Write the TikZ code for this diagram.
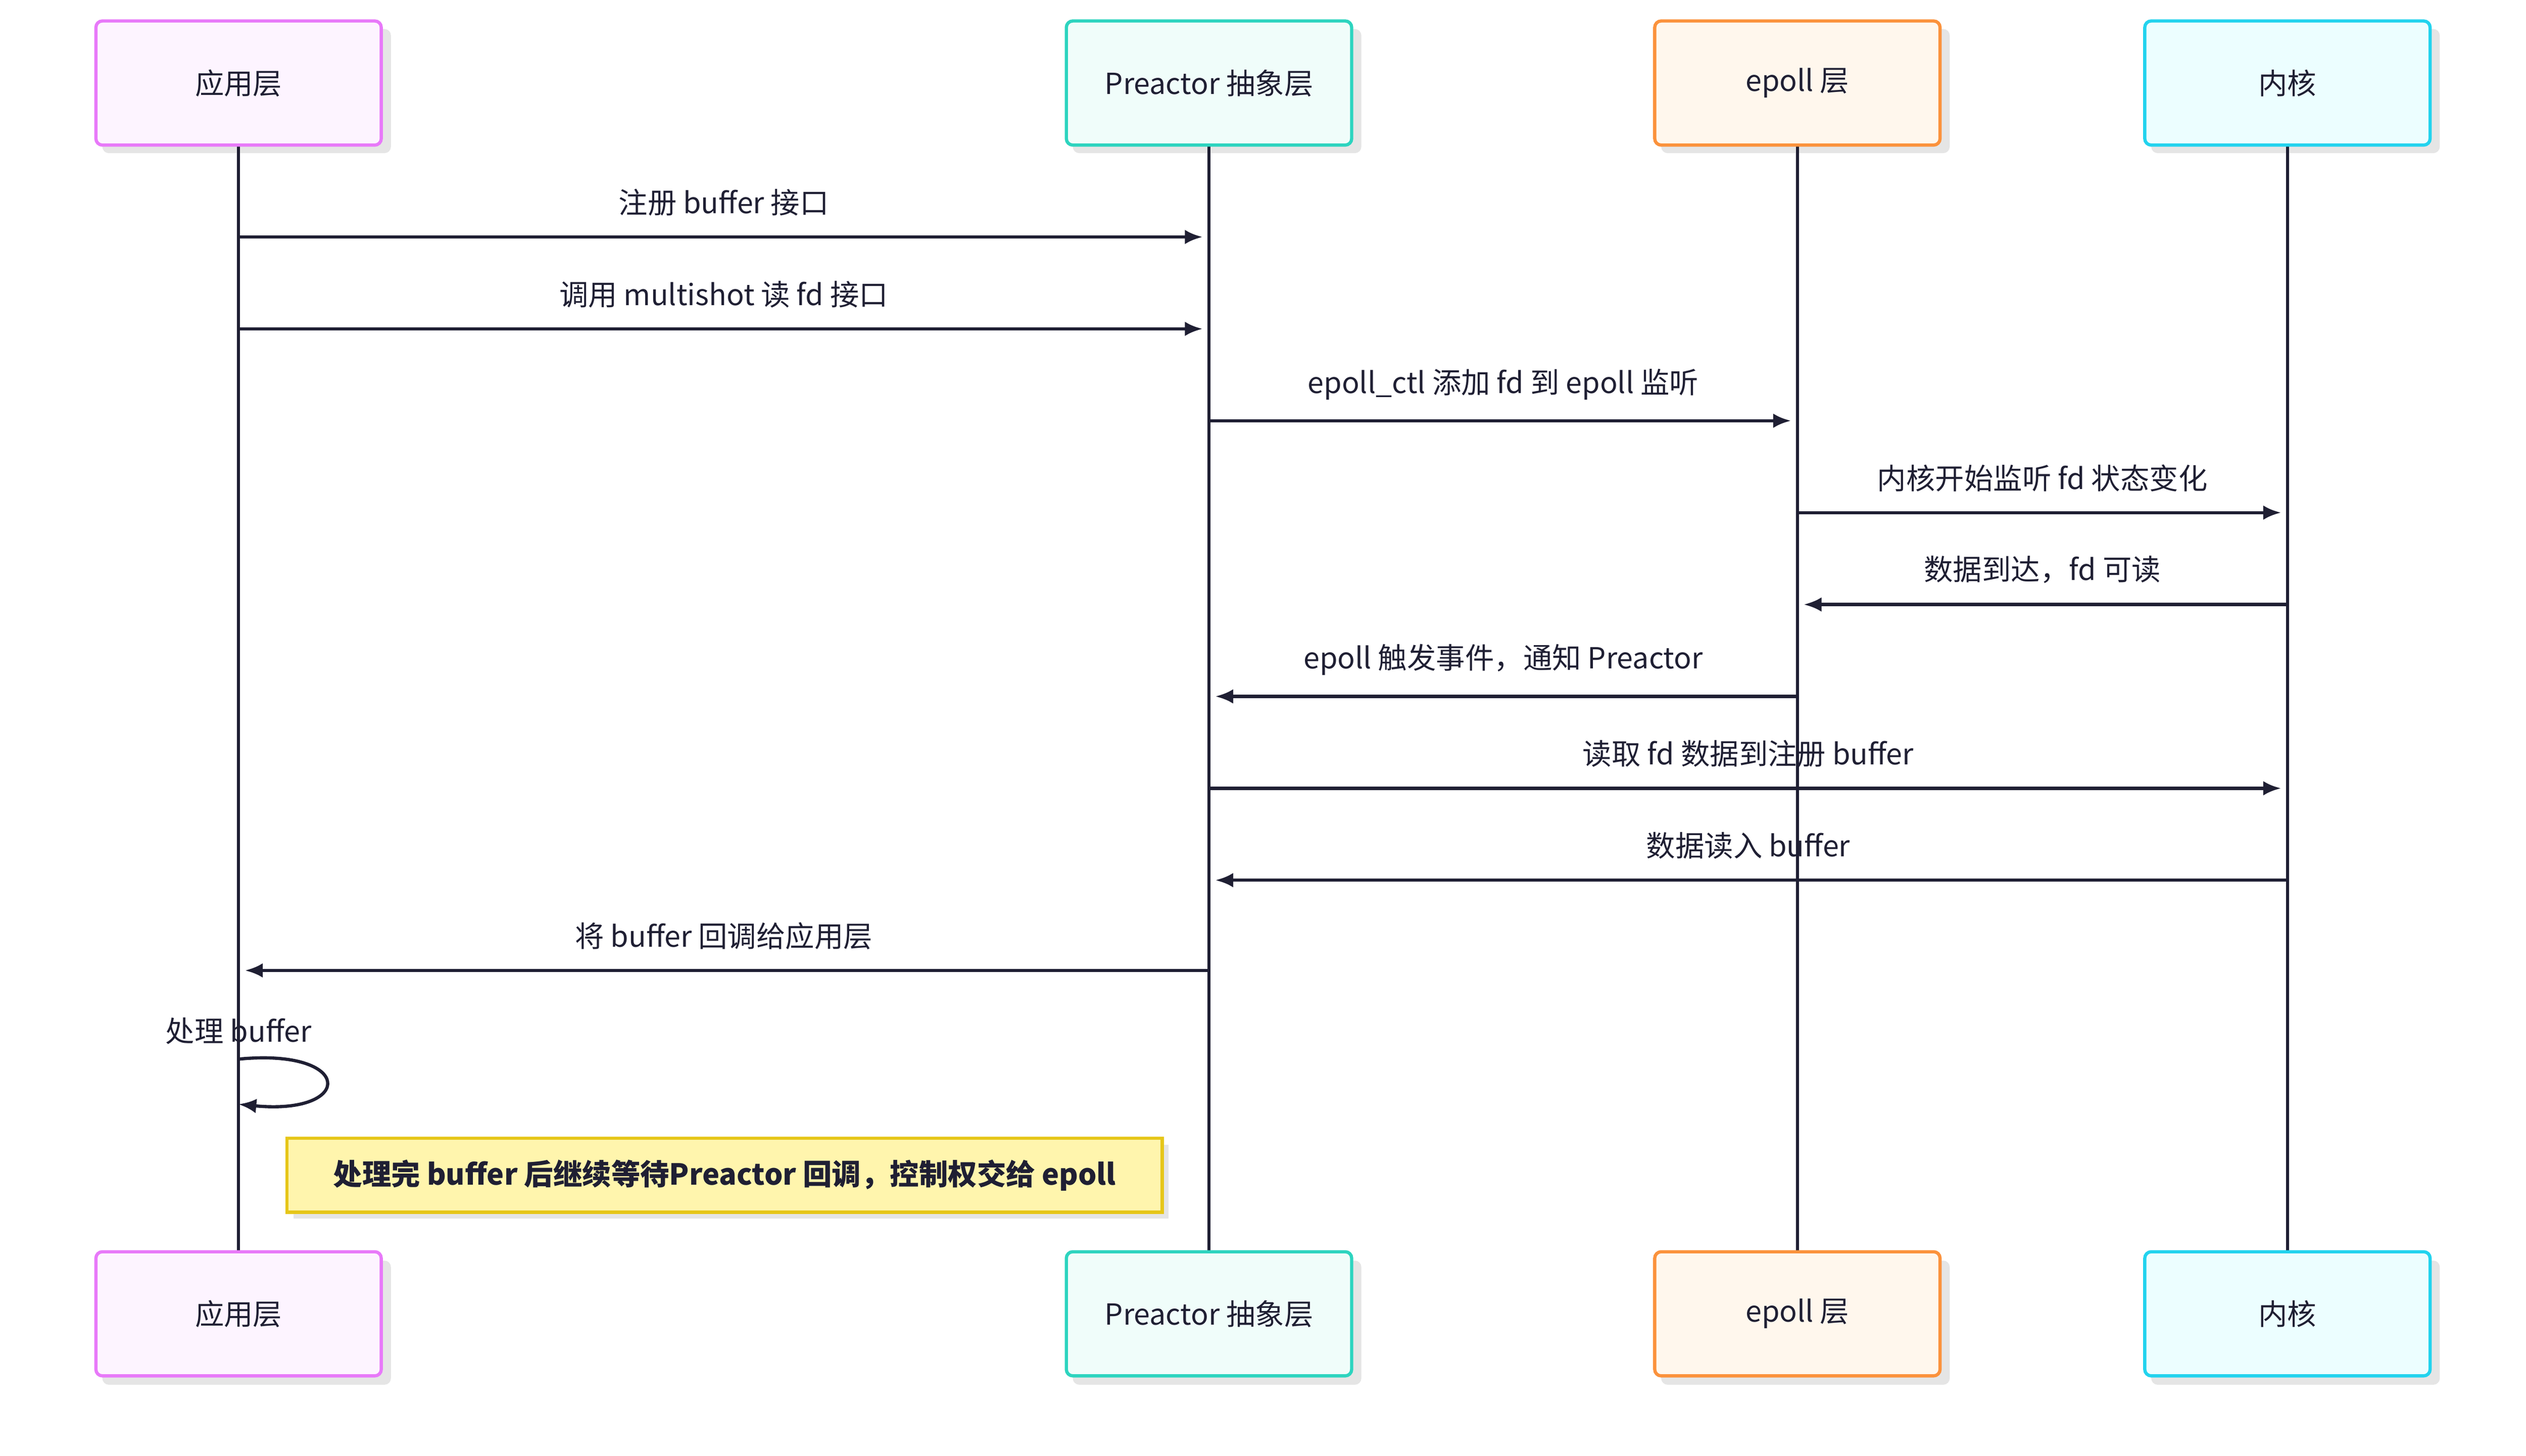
\documentclass[tikz,border=0pt]{standalone}
\usepackage{fontspec}
\setmainfont{Noto Sans CJK SC}
\usetikzlibrary{arrows.meta}
\definecolor{ln}{HTML}{1F1F33}
\definecolor{nb}{HTML}{E6C619}
\definecolor{nf}{HTML}{FFF5AD}
\begin{document}
\begin{tikzpicture}[x=1pt,y=-1pt,
  actor/.style={draw=#1,line width=2pt,rounded corners=4pt,minimum width=177pt,minimum height=77pt,font=\fontsize{18}{20}\selectfont,text=ln},
  life/.style={draw=ln,line width=2pt},
  msg/.style={draw=ln,line width=2pt,-{Latex[length=11pt,width=9pt]}},
  lab/.style={font=\fontsize{18}{20}\selectfont,text=ln,anchor=south,inner sep=0pt}]
\useasboundingbox (0,0) rectangle (1567,903);
\foreach \n/\x/\c/\f/\t in {a/148/E879F9/FDF4FF/应用层, p/750/2DD4BF/F0FDFA/Preactor 抽象层, e/1115/FB923C/FFF7ED/epoll 层, k/1419/22D3EE/ECFEFF/内核}{
  \definecolor{bc}{HTML}{\c}\definecolor{fc}{HTML}{\f}
  \fill[black!10,rounded corners=4pt] (\x-84.5,18) rectangle (\x+94.5,95);
  \fill[black!10,rounded corners=4pt] (\x-84.5,782) rectangle (\x+94.5,859);
  \draw[life] (\x,90) -- (\x,777);
  \node[actor=bc,fill=fc] (\n1) at (\x,51.5) {\t};
  \node[actor=bc,fill=fc] (\n2) at (\x,815) {\t};
}
\foreach \y/\s/\d/\t in {147/a/p/注册 buffer 接口, 204/a/p/调用 multishot 读 fd 接口, 261/p/e/epoll\_ctl 添加 fd 到 epoll 监听, 318/e/k/内核开始监听 fd 状态变化, 375/k/e/数据到达，fd 可读, 432/e/p/epoll 触发事件，通知 Preactor, 489/p/k/读取 fd 数据到注册 buffer, 546/k/p/数据读入 buffer, 602/p/a/将 buffer 回调给应用层}{
  \coordinate (s) at (\s1.center |- 0,\y);
  \coordinate (d) at (\d1.center |- 0,\y);
  \draw[msg,shorten >=4pt] (s) -- (d) node[lab,midway,above=12pt]{\t};
}
\coordinate (l1) at (148,657);
\coordinate (l2) at (148,685);
\draw[msg] (l1) .. controls (220,650) and (220,692) .. (l2);
\node[lab] at (148,648) {处理 buffer};
\fill[black!10] (182,710) rectangle (725,756);
\node[draw=nb,fill=nf,line width=2pt,minimum width=543pt,minimum height=46pt,font=\fontsize{18}{20}\selectfont\bfseries,text=ln] (note) at (449.5,729) {处理完 buffer 后继续等待Preactor 回调，控制权交给 epoll};
\end{tikzpicture}
\end{document}
